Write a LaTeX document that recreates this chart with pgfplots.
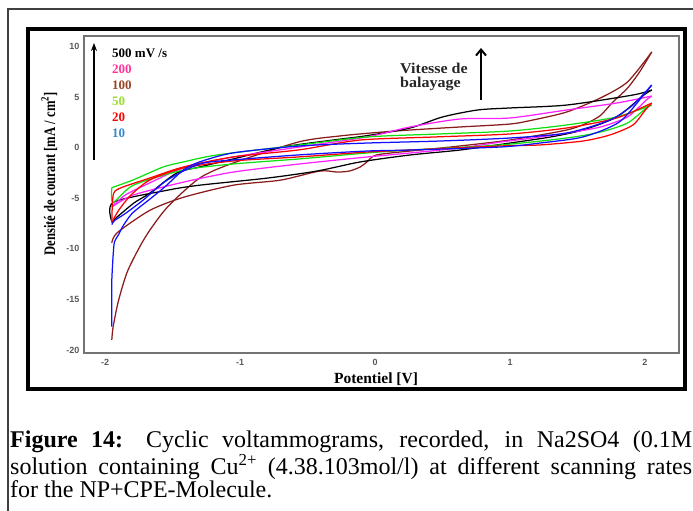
\documentclass[border=0pt]{standalone}
\usepackage{fontspec}
\setmainfont{Liberation Serif}
\newfontfamily\sansf{Liberation Sans}
\usepackage{graphicx}
\usepackage{xcolor}
\usepackage{tikz}
\usetikzlibrary{arrows.meta}
\usepackage{pgfplots}
\pgfplotsset{compat=1.18}
\definecolor{cvbrown}{HTML}{8B1C1C}
\definecolor{cvgreen}{HTML}{10E010}
\definecolor{cvmag}{HTML}{FF20FF}
\definecolor{cvblue}{HTML}{1010FF}
\definecolor{lgpink}{HTML}{FF3399}
\definecolor{lgbrown}{HTML}{994422}
\definecolor{lggreen}{HTML}{99DD33}
\definecolor{lgblue}{HTML}{3388CC}

\begin{document}
\begin{tikzpicture}[x=1pt,y=1pt]
\useasboundingbox (0,0) rectangle (693,511);
% page frame and figure frame
\draw[line width=1.3pt, black!75] (8,0) -- (8,502) -- (693,502);
\draw[line width=4pt] (28,122) rectangle (684.5,482);

\begin{axis}[
  at={(84pt,158pt)}, anchor=south west,
  scale only axis, width=595pt, height=317pt,
  xmin=-2.156, xmax=2.252, ymin=-20.3, ymax=11.06,
  xtick={-2,-1,0,1,2}, ytick={-20,-15,-10,-5,0,5,10},
  major tick length=0pt,
  axis line style={draw=black!55, line width=1.2pt},
  tick label style={font=\sansf\bfseries\fontsize{9}{10}\selectfont, text=black!65,
    /pgf/number format/assume math mode=true},
  yticklabel style={xshift=-1pt},
  xticklabel style={yshift=-3pt},
  every axis plot/.append style={line width=1.25pt, smooth, tension=0.45},
]
% 100 (brown)
\addplot[cvbrown] coordinates {(-1.95,-19.0) (-1.94,-17.7) (-1.90,-15.1) (-1.83,-12.1) (-1.70,-8.8) (-1.54,-5.9) (-1.30,-3.0) (-1.05,-1.5) (-0.56,0.6) (-0.26,1.17) (0.0,1.5) (0.26,1.76) (0.63,2.06) (1.0,2.35) (1.17,2.75) (1.42,3.54) (1.67,4.93) (1.87,6.51) (2.05,9.48)};
\addplot[cvbrown] coordinates {(2.05,9.48) (1.96,7.5) (1.87,5.9) (1.76,4.5) (1.67,3.2) (1.57,2.45) (1.42,1.76) (1.0,0.77) (0.56,0.08) (0.26,-0.32) (0.01,-0.71) (-0.06,-1.4) (-0.11,-1.9) (-0.19,-2.3) (-0.28,-2.4) (-0.41,-2.3) (-0.70,-3.2) (-1.05,-3.7) (-1.42,-4.9) (-1.67,-6.2) (-1.91,-8.4) (-1.95,-9.4)};
% 500 (black)
\addplot[black] coordinates {(-1.95,-7.3) (-1.79,-5.5) (-1.67,-4.5) (-1.47,-2.5) (-1.30,-1.9) (-1.05,-1.1) (-0.68,0.08) (-0.31,0.77) (-0.06,1.2) (0.26,1.96) (0.50,3.05) (0.76,3.74) (1.0,3.94) (1.42,4.23) (1.91,5.22) (2.05,5.72)};
\addplot[black] coordinates {(2.05,5.72) (1.99,5.2) (1.79,3.05) (1.54,1.76) (1.30,1.07) (1.0,0.47) (0.63,-0.22) (0.26,-0.71) (-0.11,-1.4) (-0.43,-2.3) (-0.80,-3.0) (-1.30,-3.7) (-1.54,-4.2) (-1.94,-5.4) (-1.95,-7.3)};
% 200 (magenta)
\addplot[cvmag] coordinates {(-1.95,-5.86) (-1.85,-4.67) (-1.67,-3.48) (-1.42,-2.0) (-1.05,-0.91) (-0.56,0.08) (-0.06,1.07) (0.26,2.06) (0.63,2.85) (1.0,2.95) (1.42,3.74) (1.79,4.43) (2.05,5.12)};
\addplot[cvmag] coordinates {(2.05,5.12) (2.01,4.73) (1.87,3.05) (1.67,2.06) (1.42,1.46) (1.17,0.97) (0.93,0.57) (0.63,-0.02) (0.26,-0.51) (-0.06,-0.91) (-0.56,-1.6) (-1.05,-2.4) (-1.42,-3.4) (-1.79,-4.67) (-1.95,-5.86)};
% 50 (green)
\addplot[cvgreen] coordinates {(-1.95,-3.94) (-1.79,-3.17) (-1.57,-1.9) (-1.42,-1.4) (-1.17,-0.71) (-0.56,0.28) (-0.06,1.07) (0.48,1.37) (1.0,1.66) (1.42,2.26) (1.79,3.05) (2.05,4.23)};
\addplot[cvgreen] coordinates {(2.05,4.23) (2.01,3.94) (1.87,2.45) (1.67,1.56) (1.42,0.97) (0.93,0.28) (0.26,-0.22) (-0.06,-0.51) (-0.56,-1.1) (-1.05,-1.6) (-1.42,-2.2) (-1.79,-3.7) (-1.94,-5.4) (-1.95,-3.94)};
% 20 (red)
\addplot[red] coordinates {(-1.95,-7.4) (-1.94,-4.7) (-1.89,-4.0) (-1.67,-3.0) (-1.42,-1.9) (-1.05,-0.9) (-0.56,-0.2) (-0.11,0.77) (0.44,1.07) (1.0,1.37) (1.42,1.96) (1.79,2.95) (2.05,4.43)};
\addplot[red] coordinates {(2.05,4.43) (2.0,3.7) (1.91,2.25) (1.74,1.27) (1.54,0.67) (1.22,0.28) (0.93,0.18) (0.26,-0.22) (-0.06,-0.42) (-0.56,-0.9) (-1.05,-1.3) (-1.42,-2.0) (-1.67,-3.2) (-1.81,-4.7) (-1.90,-6.2) (-1.95,-7.4)};
% 10 (blue)
\addplot[cvblue] coordinates {(-1.95,-17.7) (-1.95,-15.0) (-1.95,-13.1) (-1.94,-10.6) (-1.93,-9.3) (-1.90,-8.6) (-1.87,-7.8) (-1.80,-6.5) (-1.68,-5.2) (-1.56,-3.9) (-1.42,-2.2) (-1.30,-1.4) (-1.05,-0.5) (-0.56,0.18) (-0.06,0.47) (0.48,0.67) (1.0,0.97) (1.42,1.46) (1.74,2.75) (1.91,4.23) (2.05,6.21)};
\addplot[cvblue] coordinates {(2.05,6.21) (2.0,5.4) (1.81,2.55) (1.54,1.07) (1.22,0.47) (0.93,0.08) (0.26,-0.22) (-0.06,-0.32) (-0.56,-0.7) (-1.05,-1.2) (-1.30,-1.6) (-1.54,-3.2) (-1.72,-5.2) (-1.85,-6.5) (-1.93,-7.2) (-1.95,-7.6)};
\end{axis}

% axis titles
\node[anchor=base, inner sep=0] at (376,127) {\fontsize{15.5}{16}\selectfont\bfseries Potentiel [V]};
\node[rotate=90, anchor=base, inner sep=0] at (55,337) {\scalebox{0.79}[1]{\fontsize{16}{16}\selectfont\bfseries Densité de courant [mA / cm\textsuperscript{2}]}};

% scan-rate labels
\draw[line width=1.8pt, -{Stealth[length=8pt,width=6pt]}] (94,351) -- (94,468);
\begin{scope}[every node/.style={anchor=base west, inner sep=0, font=\fontsize{13}{14}\selectfont\bfseries}]
\node[text=black] at (112,453.5) {500 mV /s};
\node[text=lgpink] at (112,437.5) {200};
\node[text=lgbrown] at (112,421.5) {100};
\node[text=lggreen] at (112,405.5) {50};
\node[text=red] at (112,389.5) {20};
\node[text=lgblue] at (112,373.5) {10};
\end{scope}
\begin{scope}[every node/.style={anchor=base west, inner sep=0, text=black!85, font=\fontsize{15}{16}\selectfont\bfseries}]
\node at (400,437) {\scalebox{1.07}[1]{Vitesse de}};
\node at (400,423) {\scalebox{1.07}[1]{balayage}};
\end{scope}
\draw[line width=2pt, -{Straight Barb[length=6pt,width=10pt]}] (481,411) -- (481,463);

% caption
\node[anchor=north west, inner sep=0, text width=682pt, align=justify] at (10,80)
  {\fontsize{24}{26}\selectfont\textbf{Figure 14:} Cyclic voltammograms, recorded, in Na2SO4 (0.1M\linebreak
   solution containing Cu\textsuperscript{2+} (4.38.103mol/l) at different scanning rates\linebreak
   for the NP+CPE-Molecule.};
\end{tikzpicture}
\end{document}
